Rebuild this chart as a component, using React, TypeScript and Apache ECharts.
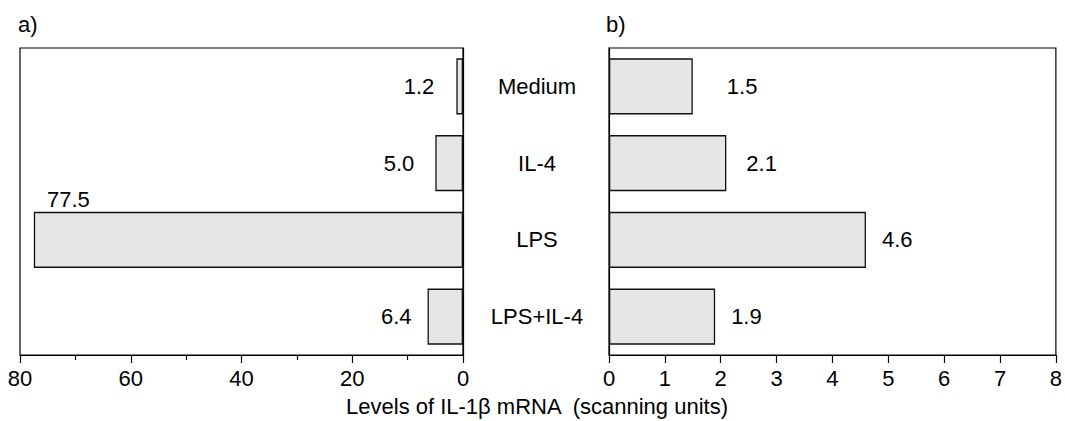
import React, { useEffect, useRef } from "react";
import * as echarts from "echarts";

const categories = ["Medium", "IL-4", "LPS", "LPS+IL-4"];
const valuesA = [1.2, 5.0, 77.5, 6.4];
const valuesB = [1.5, 2.1, 4.6, 1.9];
const ticksA = [0, 20, 40, 60, 80];
const ticksB = [0, 1, 2, 3, 4, 5, 6, 7, 8];
const axisTitle = "Levels of IL-1\u03b2 mRNA  (scanning units)";
const panelA = "a)";
const panelB = "b)";

const FONT = "'Liberation Sans', Arial, Helvetica, sans-serif";
const FS = 22;
const gapA = [22, 21, 0, 16];
const gapB = [34, 20, 16, 16];

export default function App() {
  const ref = useRef<HTMLDivElement>(null);
  useEffect(() => {
    if (!ref.current) return;
    const chart = echarts.init(ref.current, null, { renderer: "svg" });
    const barStyle = { color: "#e6e6e6", borderColor: "#111", borderWidth: 1.3 };
    const textBase = { fontFamily: FONT, fontSize: FS, color: "#000" };
    const dataA = valuesA.map((v, i) => {
      if (i === 2) {
        return {
          value: v,
          label: {
            show: true,
            position: "top",
            distance: 0,
            offset: [-180, -1],
            formatter: (p: any) => p.value.toFixed(1),
            ...textBase,
          },
        };
      }
      return {
        value: v,
        label: {
          show: true,
          position: "left",
          distance: gapA[i],
          formatter: (p: any) => p.value.toFixed(1),
          ...textBase,
        },
      };
    });
    const dataB = valuesB.map((v, i) => ({
      value: v,
      label: {
        show: true,
        position: "right",
        distance: gapB[i],
        formatter: (p: any) => p.value.toFixed(1),
        ...textBase,
      },
    }));
    const commonX = {
      type: "value",
      axisLine: { show: true, lineStyle: { color: "#000", width: 1.2 } },
      axisTick: { show: true, length: 8, lineStyle: { color: "#000", width: 1.2 } },
      splitLine: { show: false },
      axisLabel: { ...textBase, margin: 12 },
    };
    chart.setOption({
      animation: false,
      graphic: [
        { type: "text", left: 18, top: 13, style: { text: panelA, ...textBase, fill: "#000", fontSize: FS } },
        { type: "text", left: 606, top: 13, style: { text: panelB, ...textBase, fill: "#000", fontSize: FS } },
        {
          type: "text",
          x: 537,
          y: 406,
          style: { text: axisTitle, ...textBase, fill: "#000", align: "center", verticalAlign: "middle" },
        },
      ],
      grid: [
        { left: 20, right: 602, top: 48, bottom: 66, show: true, borderColor: "#000", borderWidth: 1.2, backgroundColor: "transparent" },
        { left: 609, right: 7, top: 48, bottom: 66, show: true, borderColor: "#000", borderWidth: 1.2, backgroundColor: "transparent" },
      ],
      xAxis: [
        {
          ...commonX,
          gridIndex: 0,
          min: ticksA[0],
          max: ticksA[ticksA.length - 1],
          interval: ticksA[1] - ticksA[0],
          inverse: true,
          minorTick: { show: true, splitNumber: 2, length: 5, lineStyle: { color: "#000", width: 1.2 } },
        },
        {
          ...commonX,
          gridIndex: 1,
          min: ticksB[0],
          max: ticksB[ticksB.length - 1],
          interval: ticksB[1] - ticksB[0],
        },
      ],
      yAxis: [
        {
          type: "category",
          gridIndex: 0,
          data: categories,
          inverse: true,
          position: "right",
          axisLine: { show: true, lineStyle: { color: "#000", width: 1.2 } },
          axisTick: { show: false },
          axisLabel: { show: false },
        },
        {
          type: "category",
          gridIndex: 1,
          data: categories,
          inverse: true,
          position: "left",
          axisLine: { show: true, lineStyle: { color: "#000", width: 1.2 } },
          axisTick: { show: false },
          axisLabel: { show: true, ...textBase, align: "center", margin: 72 },
        },
      ],
      series: [
        {
          type: "bar",
          xAxisIndex: 0,
          yAxisIndex: 0,
          data: dataA,
          barCategoryGap: "27%",
          itemStyle: barStyle,
        },
        {
          type: "bar",
          xAxisIndex: 1,
          yAxisIndex: 1,
          data: dataB,
          barCategoryGap: "27%",
          itemStyle: barStyle,
        },
      ],
    });
    return () => chart.dispose();
  }, []);
  return (
    <div
      ref={ref}
      style={{ position: "fixed", left: 0, top: 0, width: 1065, height: 421, background: "#fff" }}
    />
  );
}
